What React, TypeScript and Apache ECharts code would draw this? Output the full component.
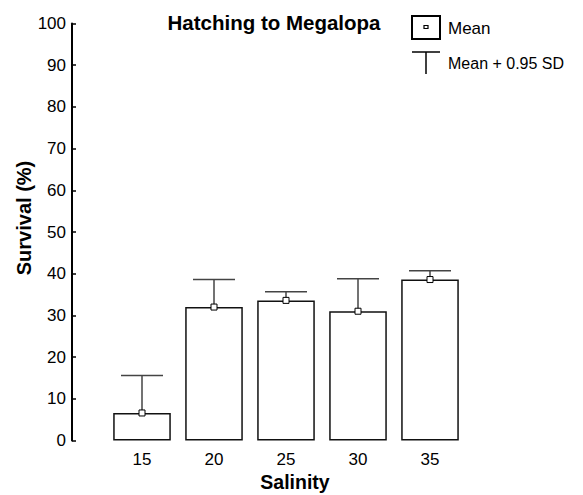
import React, { useEffect, useRef } from "react";
import * as echarts from "echarts";

const categories = ["15", "20", "25", "30", "35"];
const meanValues = [6.6, 32.0, 33.6, 31.0, 38.6];
const upperValues = [15.6, 38.6, 35.7, 38.8, 40.7];
const titleText = "Hatching to Megalopa";
const xName = "Salinity";
const yName = "Survival (%)";
const legendMean = "Mean";
const legendSD = "Mean + 0.95 SD";

const FONT = "Arial, 'Liberation Sans', sans-serif";

export default function App() {
  const ref = useRef<HTMLDivElement>(null);
  useEffect(() => {
    const chart = echarts.init(ref.current as HTMLDivElement, null, { renderer: "svg" });
    chart.setOption({
      animation: false,
      grid: { left: 106, right: 117, top: 23.5, bottom: 54.5 },
      xAxis: {
        type: "category",
        data: categories,
        axisLine: { show: false },
        axisTick: { show: false },
        axisLabel: { margin: 10, fontSize: 17, color: "#000", fontFamily: FONT },
      },
      yAxis: {
        type: "value",
        min: 0,
        max: 100,
        interval: 10,
        offset: 34,
        axisLine: { show: true, lineStyle: { color: "#000", width: 2 } },
        axisTick: { show: true, inside: true, length: 4, lineStyle: { color: "#000", width: 1.5 } },
        splitLine: { show: false },
        axisLabel: { margin: 6, fontSize: 17, color: "#000", fontFamily: FONT },
      },
      series: [
        {
          type: "bar",
          data: meanValues,
          barWidth: "80%",
          itemStyle: { color: "#fff", borderColor: "#111", borderWidth: 1.5 },
          z: 2,
        },
        {
          type: "custom",
          data: categories.map((c, i) => [i, meanValues[i], upperValues[i]]),
          encode: { x: 0, y: [1, 2] },
          z: 3,
          renderItem: (params: any, api: any) => {
            const x = api.value(0);
            const p0 = api.coord([x, api.value(1)]);
            const p1 = api.coord([x, api.value(2)]);
            const st = { stroke: "#444", lineWidth: 1.5 };
            return {
              type: "group",
              children: [
                { type: "line", shape: { x1: p0[0], y1: p0[1], x2: p1[0], y2: p1[1] }, style: st },
                { type: "line", shape: { x1: p1[0] - 21, y1: p1[1], x2: p1[0] + 21, y2: p1[1] }, style: st },
              ],
            };
          },
        },
        {
          type: "scatter",
          data: meanValues,
          symbol: "rect",
          symbolSize: 6,
          itemStyle: { color: "#fff", borderColor: "#000", borderWidth: 1, opacity: 1 },
          z: 5,
        },
      ],
      graphic: [
        {
          type: "text",
          x: 274,
          y: 22,
          style: {
            text: titleText,
            font: `bold 20.5px ${FONT}`,
            fill: "#000",
            textAlign: "center",
            textVerticalAlign: "middle",
            align: "center",
            verticalAlign: "middle",
          },
        },
        {
          type: "text",
          x: 295,
          y: 482,
          style: {
            text: xName,
            font: `bold 19.5px ${FONT}`,
            fill: "#000",
            textAlign: "center",
            textVerticalAlign: "middle",
            align: "center",
            verticalAlign: "middle",
          },
        },
        {
          type: "text",
          x: 23.5,
          y: 218,
          rotation: Math.PI / 2,
          style: {
            text: yName,
            font: `bold 20px ${FONT}`,
            fill: "#000",
            textAlign: "center",
            textVerticalAlign: "middle",
            align: "center",
            verticalAlign: "middle",
          },
        },
        {
          type: "rect",
          shape: { x: 412, y: 16, width: 28, height: 23 },
          style: { fill: "#fff", stroke: "#000", lineWidth: 2 },
        },
        {
          type: "rect",
          shape: { x: 424, y: 25.5, width: 4, height: 3 },
          style: { fill: "#fff", stroke: "#000", lineWidth: 1.2 },
        },
        {
          type: "line",
          shape: { x1: 412, y1: 52, x2: 440, y2: 52 },
          style: { stroke: "#000", lineWidth: 1.5 },
        },
        {
          type: "line",
          shape: { x1: 426, y1: 52, x2: 426, y2: 74 },
          style: { stroke: "#000", lineWidth: 1.5 },
        },
        {
          type: "text",
          x: 448,
          y: 28,
          style: {
            text: legendMean,
            font: `17px ${FONT}`,
            fill: "#000",
            textAlign: "left",
            textVerticalAlign: "middle",
            align: "left",
            verticalAlign: "middle",
          },
        },
        {
          type: "text",
          x: 448,
          y: 63,
          style: {
            text: legendSD,
            font: `16px ${FONT}`,
            fill: "#000",
            textAlign: "left",
            textVerticalAlign: "middle",
            align: "left",
            verticalAlign: "middle",
          },
        },
      ],
    });
    return () => chart.dispose();
  }, []);
  return (
    <div
      ref={ref}
      style={{ position: "absolute", left: 0, top: 0, width: 583, height: 495 }}
    />
  );
}
